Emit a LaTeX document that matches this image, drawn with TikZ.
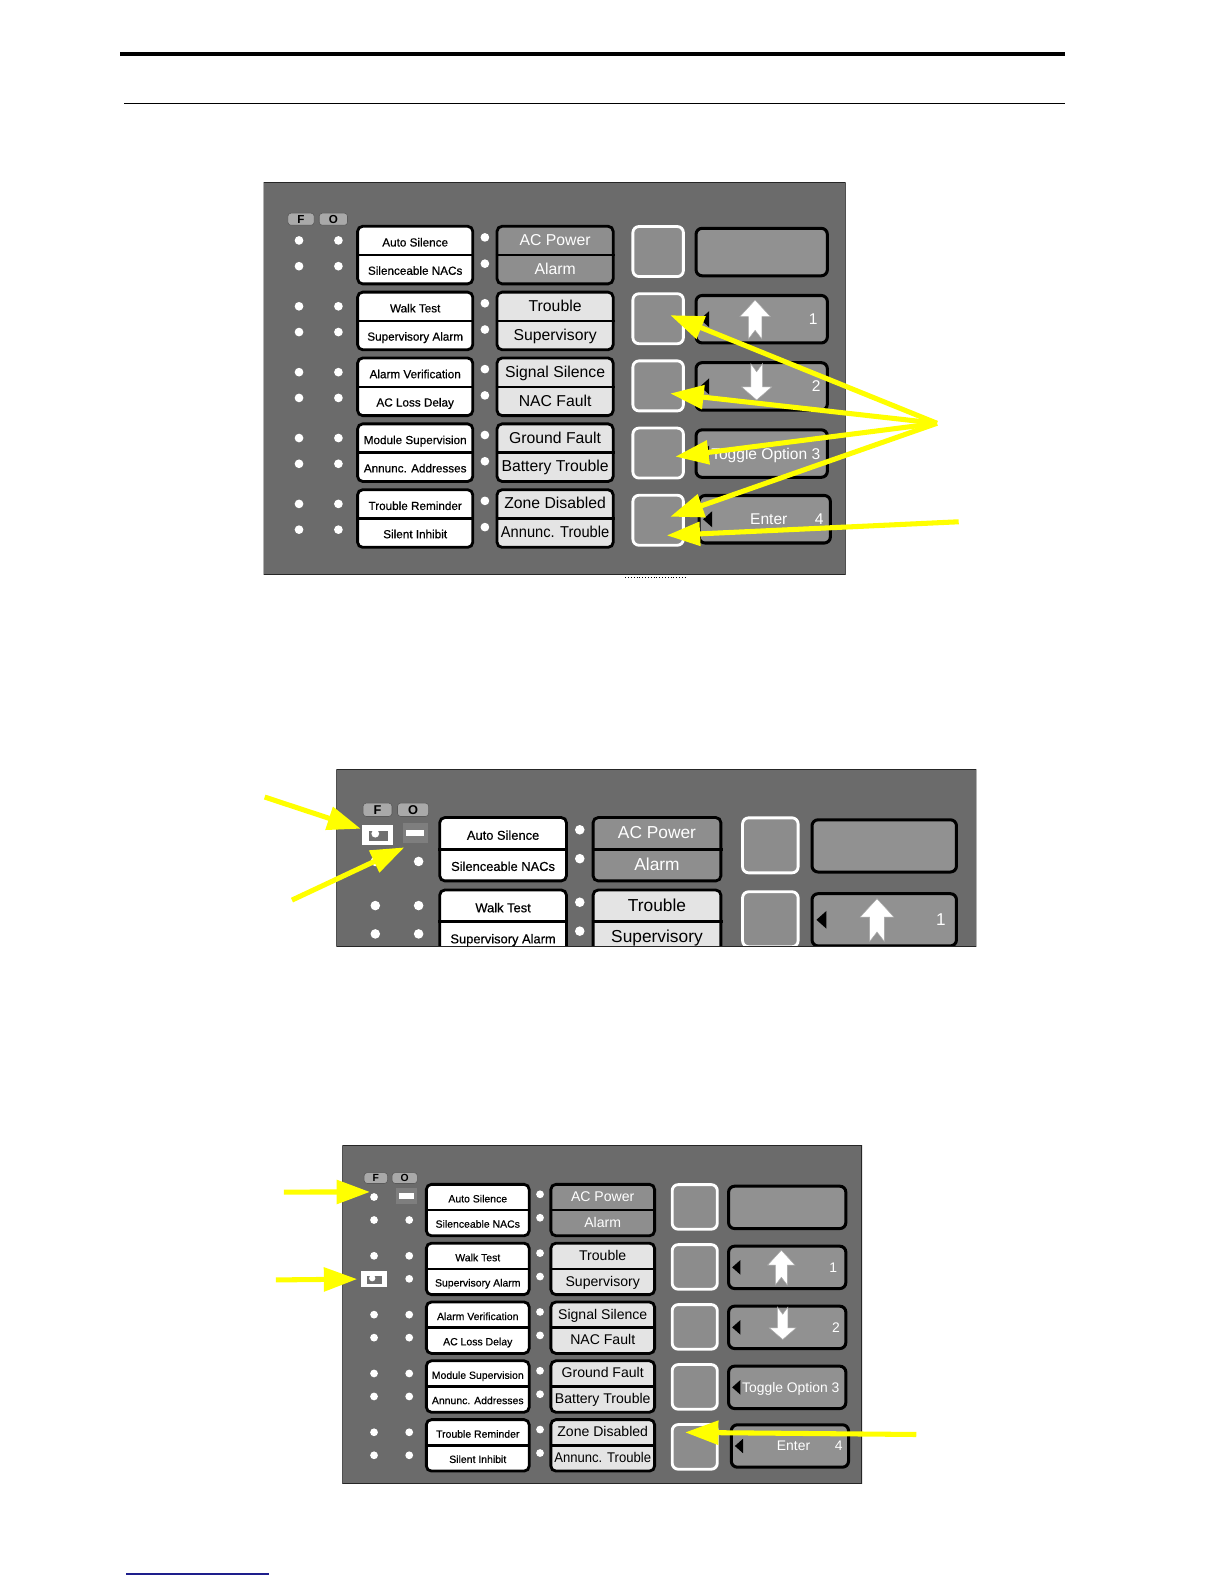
\documentclass[tikz,border=0pt]{standalone}
\usepackage{fontspec}
\setmainfont{Liberation Sans}
\newfontfamily\lblfamily{Liberation Sans}[FakeBold=0.5]
\usepackage{tikz}
\usetikzlibrary{arrows.meta,calc}

\definecolor{panelgray}{HTML}{6B6B6B}
\definecolor{btngray}{HTML}{8C8C8C}
\definecolor{keygray}{HTML}{919191}
\definecolor{statdark}{HTML}{8E8E8E}
\definecolor{statlight}{HTML}{E4E4E4}
\definecolor{taggray}{HTML}{A9A9A9}
\definecolor{dimgray}{HTML}{7E7E7E}
\definecolor{sockgray}{HTML}{707070}
\definecolor{markyellow}{HTML}{FFFF00}
\definecolor{footblue}{HTML}{1E1E8C}

% one front panel, drawn in its own coordinates (576 wide)
\newcommand\keypanel[1]{%
  \begin{scope}
    \clip (0,0) rectangle (576,#1);
    \fill[panelgray] (0,0) rectangle (576,#1);
    \node[tag] (tagF) at (37,36) {F};
    \node[tag, minimum width=28pt] (tagO) at (69,36) {O};
    \foreach \lbla/\lblb/\stata/\statb/\sx [count=\i from 0] in {
        Auto Silence/Silenceable NACs/AC Power/Alarm/1,
        Walk Test/Supervisory Alarm/Trouble/Supervisory/1,
        Alarm Verification/AC Loss Delay/Signal Silence/NAC Fault/1,
        Module Supervision/Annunc. Addresses/Ground Fault/Battery Trouble/1,
        Trouble Reminder/Silent Inhibit/Zone Disabled/Annunc. Trouble/0.93}{
      \pgfmathsetmacro\gy{43+65.2*\i}
      \node[led] (ledF\i0) at (35,\gy+14) {};
      \node[led] (ledF\i1) at (35,\gy+39.5) {};
      \node[led] (ledO\i0) at (74,\gy+14) {};
      \node[led] (ledO\i1) at (74,\gy+39.5) {};
      \node[lblbox] (lbl\i) at (150,\gy+28.5) {};
      \draw[line width=2.5pt] (lbl\i.west) -- (lbl\i.east);
      \node[lbltext] (lbla\i) at (150,\gy+20) {\lbla};
      \node[lbltext] (lblb\i) at (150,\gy+48) {\lblb};
      \node[led] (ledM\i0) at (219,\gy+11) {};
      \node[led] (ledM\i1) at (219,\gy+37) {};
      \ifnum\i=0
        \node[statbox, fill=statdark] (stat\i) at (288.5,\gy+28.5) {};
        \def\stcol{white}
      \else
        \node[statbox] (stat\i) at (288.5,\gy+28.5) {};
        \def\stcol{black}
      \fi
      \draw[line width=2.5pt] (stat\i.west) -- (stat\i.east);
      \node[stattext, text=\stcol] (stata\i) at (288.5,\gy+19) {\stata};
      \node[stattext, text=\stcol, xscale=\sx] (statb\i) at (288.5,\gy+47.5) {\statb};
    }
    \foreach \i in {0,...,4}{
      \pgfmathsetmacro\by{43+66.5*\i}
      \node[btn] (btn\i) at (390.5,\by+25) {};
    }
    % keys
    \node[keybox] (key0) at (493,68.5) {};
    \node[keybox] (key1) at (493,135) {};
    \node[keybox] (key2) at (493,201.5) {};
    \node[keybox] (key3) at (493,268) {};
    \node[keybox] (key4) at (496,333) {};
    \foreach \c/\xa in {135/432,201.5/432,268/432,333/435}
      \fill (\xa,\c) -- (\xa+9,\c-8) -- (\xa+9,\c+8) -- cycle;
    \filldraw[keyarrow] (486.5,116) -- (501.7,132.5) -- (493.1,132.5) -- (493.1,154.5)
      -- (486.5,146) -- (479.9,154.5) -- (479.9,132.5) -- (471.3,132.5) -- cycle;
    \filldraw[keyarrow] (482.2,179) -- (488,187) -- (493.8,179) -- (493.8,202)
      -- (503,202) -- (488,215) -- (473,202) -- (482.2,202) -- cycle;
    \node[keytext] (key1num) at (544,140.5) {1};
    \node[keytext] (key2num) at (547,207) {2};
    \node[keytext] (key3txt) at (497,273.5) {Toggle Option 3};
    \node[keytext] (key4txt) at (500,338.5) {Enter};
    \node[keytext] (key4num) at (550,338.5) {4};
    \draw[line width=1.2pt, black!85] (0,0) rectangle (576,#1);
  \end{scope}
}
% lit indicator and dimmed indicator
\newcommand\sockicon[2]{%
  \node[sockbox] (sockF) at (#1,#2) {};
  \node[rectangle, fill=sockgray, minimum width=17pt, minimum height=9pt, inner sep=0pt] (sockU) at ({#1+0.5},{#2+1}) {};
  \node[circle, fill=white, minimum size=7pt, inner sep=0pt] (sockD) at ({#1-2},{#2-1}) {};
}
\newcommand\dimicon[2]{%
  \node[dimbox] (dimO) at (#1,#2) {};
  \node[rectangle, fill=white, minimum width=16.5pt, minimum height=6pt, inner sep=0pt] (dimbar) at (dimO) {};
}

\begin{document}
\begin{tikzpicture}[
    x=1pt, y=-1pt,
    led/.style={circle, fill=white, inner sep=0pt, minimum size=8.6pt},
    tag/.style={rectangle, rounded corners=3pt, fill=taggray, draw=gray!70!black, line width=0.6pt,
                minimum width=26pt, minimum height=12pt, inner sep=0pt, font=\fontsize{11.5}{11.5}\selectfont\bfseries},
    lblbox/.style={rectangle, rounded corners=5pt, fill=white, draw=black, line width=2.8pt,
                   minimum width=114pt, minimum height=57pt, inner sep=0pt},
    statbox/.style={lblbox, fill=statlight, minimum width=115pt},
    lbltext/.style={anchor=base, inner sep=0pt, font=\lblfamily\fontsize{11.6}{12}\selectfont},
    stattext/.style={anchor=base, inner sep=0pt, font=\fontsize{15.6}{16}\selectfont},
    btn/.style={rectangle, rounded corners=6pt, fill=btngray, draw=white, line width=2.8pt,
                minimum width=50pt, minimum height=49.5pt, inner sep=0pt},
    keybox/.style={rectangle, rounded corners=6pt, fill=keygray, draw=black, line width=3pt,
                   minimum width=130pt, minimum height=47pt, inner sep=0pt},
    keytext/.style={anchor=base, inner sep=0pt, text=white, font=\fontsize{15.4}{16}\selectfont},
    keyarrow/.style={fill=white, draw=gray!70, line width=0.5pt},
    sockbox/.style={rectangle, fill=white, minimum width=28pt, minimum height=18pt, inner sep=0pt},
    dimbox/.style={rectangle, fill=dimgray, minimum width=23pt, minimum height=18pt, inner sep=0pt},
    yarrow/.style={draw=markyellow, line width=5pt, -{Triangle[length=33pt,width=23pt]}},
]
\useasboundingbox (0,0) rectangle (1212,1568);

% page rules
\draw[line width=4pt] (119,53) -- (1054,53);
\draw[line width=1pt] (123,102) -- (1054,102);
\draw[line width=1.4pt, footblue] (125,1558) -- (266,1558);

% panel 1
\begin{scope}[shift={(261,181)}, name prefix=p1-]
  \keypanel{388}
\end{scope}
\draw[dotted, line width=0.8pt] (619,571.5) -- (680,571.5);

% panel 2
\begin{scope}[shift={(333,762)}, scale=1.1, transform shape, name prefix=p2-]
  \keypanel{159}
  \sockicon{37}{58.5}
  \dimicon{71}{57}
\end{scope}

% panel 3
\begin{scope}[shift={(339,1134)}, scale=0.893, transform shape, name prefix=p3-]
  \keypanel{375}
  \dimicon{71}{56}
  \sockicon{35}{148}
\end{scope}

% pointers
\coordinate (hub) at (927.5,419);
\coordinate (tail5) at (949,516.5);
\draw[yarrow] (hub) -- ($(p1-btn1.center)+(12,-3.5)$);
\draw[yarrow] (hub) -- ($(p1-btn2.center)+(12,7.5)$);
\draw[yarrow] (hub) -- ($(p1-btn3.center)+(17,3.5)$);
\draw[yarrow] (hub) -- ($(p1-btn4.center)+(12,-3.5)$);
\draw[yarrow] (tail5) -- ($(p1-btn4.center)+(8.5,15)$);

\coordinate (tail2a) at (262,789);
\coordinate (tail2b) at (289,891);
\draw[yarrow] (tail2a) -- ($(p2-sockF.west)+(-1,-6)$);
\draw[yarrow] (tail2b) -- ($(p2-dimO.south west)+(2,4)$);

\coordinate (tail3a) at (281,1180);
\coordinate (tail3b) at (273,1267);
\coordinate (tail3c) at (907,1420);
\draw[yarrow] (tail3a) -- ($(p3-ledF00.west)+(0,-5)$);
\draw[yarrow] (tail3b) -- ($(p3-sockF.west)+(-4,0)$);
\draw[yarrow] (tail3c) -- ($(p3-btn4.north west)+(14,9)$);
\end{tikzpicture}
\end{document}
